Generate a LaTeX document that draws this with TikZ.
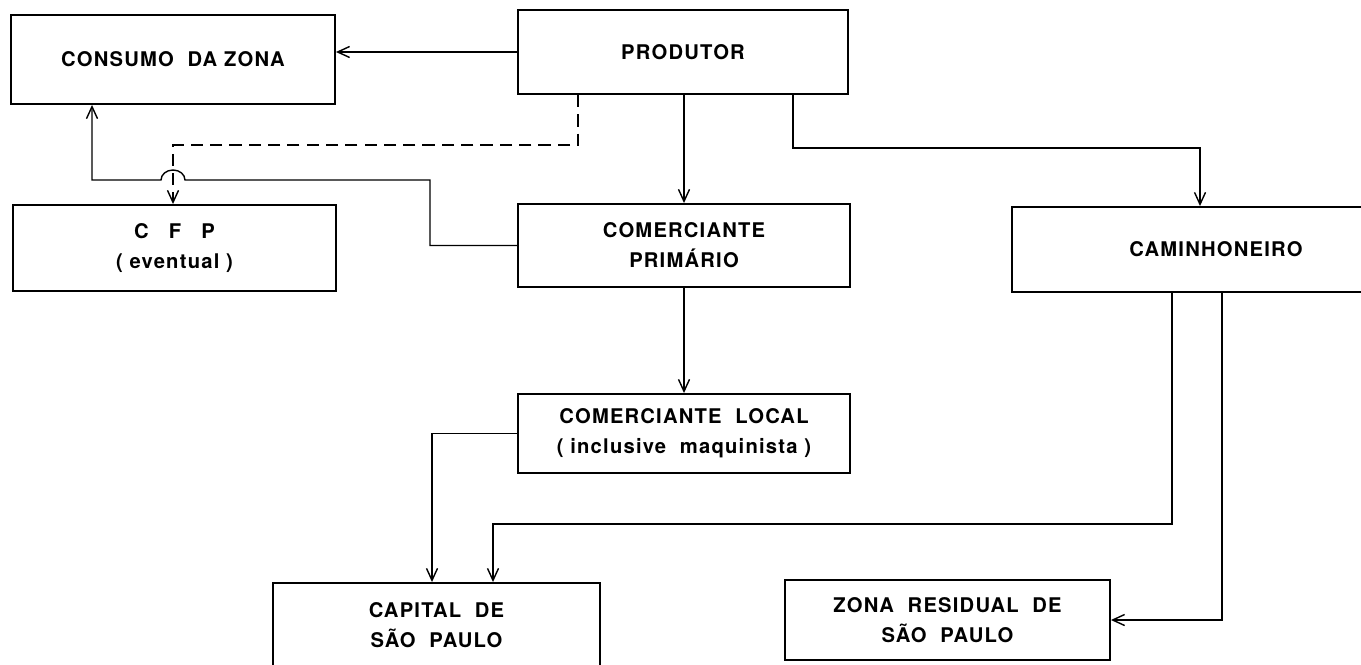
\documentclass[tikz,border=0pt]{standalone}
\usepackage{fontspec}
\newfontfamily\lettering[LetterSpace=6]{TeX Gyre Heros}
\usetikzlibrary{arrows.meta}
\usetikzlibrary{calc}
\tikzset{
  caixa/.style={draw,rectangle,line width=1.1pt,align=center,inner sep=0pt,
    font=\lettering\bfseries\fontsize{11.5}{17}\selectfont},
  fluxo/.style={line width=0.8pt,-{Straight Barb[length=2.4mm,width=2.2mm]}},
  eventual/.style={fluxo,dash pattern=on 7pt off 4pt}
}

\begin{document}
\begin{tikzpicture}[x=0.02cm,y=-0.02cm]
  \path[use as bounding box] (0,0) rectangle (1361,665);
  \clip (0,0) rectangle (1361,665);

  % caixas
  \node[caixa,minimum width=6.48cm,minimum height=1.78cm] (cons) at (173,59.5) {CONSUMO\ \ DA ZONA};
  \node[caixa,minimum width=6.6cm,minimum height=1.68cm] (prod) at (683,52) {PRODUTOR};
  \node[caixa,minimum width=6.46cm,minimum height=1.72cm] (cfp) at (174.5,248) {C\quad F\quad P\\( eventual )};
  \node[caixa,minimum width=6.64cm,minimum height=1.66cm] (prim) at (684,245.5) {COMERCIANTE\\PRIMÁRIO};
  \node[caixa,minimum width=8.16cm,minimum height=1.7cm] (cam) at (1216,249.5) {CAMINHONEIRO};
  \node[caixa,minimum width=6.64cm,minimum height=1.58cm] (loc) at (684,433.5) {COMERCIANTE\ \ LOCAL\\( inclusive\ \ maquinista )};
  \node[caixa,minimum width=6.54cm,minimum height=1.68cm] (cap) at (436.5,625) {CAPITAL\ \ DE\\SÃO\ \ PAULO};
  \node[caixa,minimum width=6.5cm,minimum height=1.6cm] (res) at (947.5,620) {ZONA\ \ RESIDUAL\ \ DE\\SÃO\ \ PAULO};

  % pontos de passagem
  \coordinate (salto) at (185,180);
  \coordinate (desvio) at (1200,148);
  \coordinate (capdir) at (493,524);

  % ligacoes
  \draw[fluxo] (prod.west) -- (cons.east |- prod.west);
  \draw[fluxo] (prod.south -| prim.north) -- (prim.north);
  \draw[fluxo] (prim.south) -- (loc.north);
  \draw[eventual] (prod.south -| 578,0) |- (173,145) -- (cfp.north -| 173,0);
  \draw[fluxo] (prim.west) -| (430,180) -- (salto)
    arc[start angle=0,end angle=180,x radius=0.24cm,y radius=0.2cm]
    -- (92,180) -- (cons.south -| 92,0);
  \draw[fluxo] (prod.south -| 793,0) |- (desvio) -- (cam.north -| desvio);
  \draw[fluxo] (cam.south -| 1172,0) |- (capdir) -- (cap.north -| capdir);
  \draw[fluxo] (cam.south -| 1222,0) |- (res.east);
  \draw[fluxo] (loc.west) -| (cap.north -| 432,0);
\end{tikzpicture}
\end{document}
